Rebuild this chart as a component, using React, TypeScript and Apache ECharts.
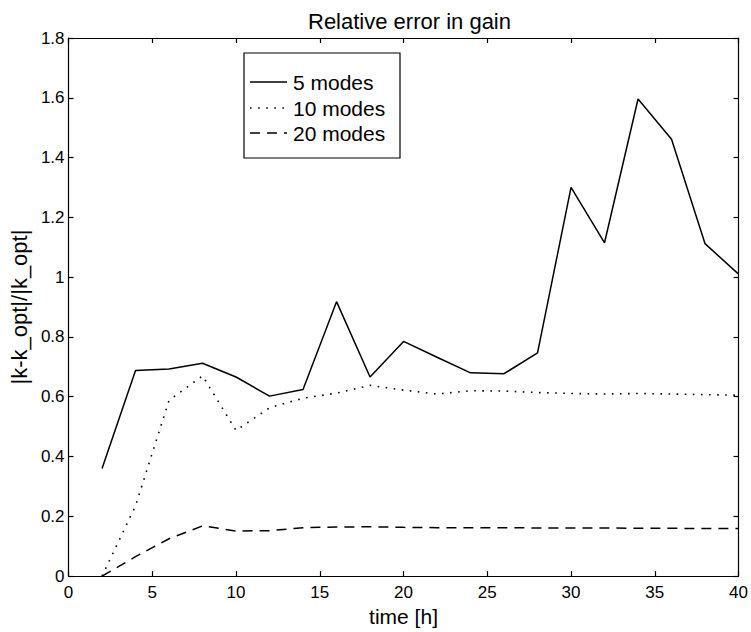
import React, { useEffect, useRef } from "react";
import * as echarts from "echarts";

const hours = [2, 4, 6, 8, 10, 12, 14, 16, 18, 20, 22, 24, 26, 28, 30, 32, 34, 36, 38, 40];
const fiveModes = [0.36, 0.688, 0.693, 0.712, 0.666, 0.602, 0.624, 0.918, 0.666, 0.785, 0.732, 0.68, 0.677, 0.747, 1.3, 1.115, 1.596, 1.461, 1.112, 1.01];
const tenModes = [0, 0.235, 0.588, 0.67, 0.487, 0.563, 0.595, 0.612, 0.638, 0.622, 0.609, 0.62, 0.619, 0.614, 0.611, 0.609, 0.611, 0.609, 0.607, 0.605];
const twentyModes = [0, 0.065, 0.125, 0.168, 0.151, 0.152, 0.162, 0.164, 0.165, 0.163, 0.162, 0.162, 0.162, 0.161, 0.161, 0.161, 0.16, 0.16, 0.159, 0.159];
const seriesNames = ["5 modes", "10 modes", "20 modes"];
const titleText = "Relative error in gain";
const xName = "time [h]";
const yName = "|k-k_opt|/|k_opt|";

const FONT = "'Liberation Sans', Arial, Helvetica, sans-serif";

const lineStyles: any[] = [
  { width: 1.5, dash: null },
  { width: 1.6, dash: [1.6, 6.5] },
  { width: 1.5, dash: [10, 7] },
];

export default function App() {
  const ref = useRef<HTMLDivElement>(null);
  useEffect(() => {
    if (!ref.current) return;
    const chart = echarts.init(ref.current, undefined, { renderer: "svg" });
    const pair = (vals: number[]) => hours.map((h, i) => [h, vals[i]]);
    const tickCommon = { show: true, inside: true, length: 5, lineStyle: { color: "#000", width: 1.2 } };
    const lineCommon = { show: true, onZero: false, lineStyle: { color: "#000", width: 1.2 } };
    const legendRows = [82, 108, 133];
    const legendChildren: any[] = [
      {
        type: "rect",
        shape: { x: 244, y: 53, width: 156, height: 105 },
        style: { fill: "#fff", stroke: "#000", lineWidth: 1.2 },
      },
    ];
    seriesNames.forEach((name, i) => {
      legendChildren.push({
        type: "line",
        shape: { x1: 250, y1: legendRows[i], x2: 287, y2: legendRows[i] },
        style: { stroke: "#000", lineWidth: lineStyles[i].width, lineDash: lineStyles[i].dash || undefined },
      });
      legendChildren.push({
        type: "text",
        x: 293,
        y: legendRows[i],
        style: {
          text: name,
          fontFamily: FONT,
          fontSize: 21,
          fill: "#000",
          textAlign: "left",
          textVerticalAlign: "middle",
          verticalAlign: "middle",
        },
      });
    });
    const mkSeries = (i: number, vals: number[]) => ({
      name: seriesNames[i],
      type: "line",
      data: pair(vals),
      symbol: "none",
      color: "#000",
      lineStyle: { color: "#000", width: lineStyles[i].width, type: lineStyles[i].dash || "solid" },
    });
    chart.setOption({
      animation: false,
      backgroundColor: "#fff",
      title: {
        text: titleText,
        left: 303,
        top: 5,
        textStyle: { fontFamily: FONT, fontSize: 22, fontWeight: "normal", color: "#000" },
      },
      graphic: [{ type: "group", z: 100, children: legendChildren }],
      grid: { left: 62, right: 11, top: 38, bottom: 55, containLabel: false },
      xAxis: [
        {
          type: "value",
          min: 0,
          max: 40,
          interval: 5,
          name: xName,
          nameLocation: "middle",
          nameGap: 28,
          nameTextStyle: { fontFamily: FONT, fontSize: 21, color: "#000" },
          axisLine: lineCommon,
          axisTick: tickCommon,
          axisLabel: { fontFamily: FONT, fontSize: 17, color: "#000", margin: 8 },
          splitLine: { show: false },
        },
        {
          type: "value",
          position: "top",
          min: 0,
          max: 40,
          interval: 5,
          axisLine: lineCommon,
          axisTick: tickCommon,
          axisLabel: { show: false },
          splitLine: { show: false },
        },
      ],
      yAxis: [
        {
          type: "value",
          min: 0,
          max: 1.8,
          interval: 0.2,
          name: yName,
          nameLocation: "middle",
          nameGap: 30,
          nameTextStyle: { fontFamily: FONT, fontSize: 22, color: "#000" },
          axisLine: lineCommon,
          axisTick: tickCommon,
          axisLabel: {
            fontFamily: FONT,
            fontSize: 17,
            color: "#000",
            margin: 4,
            formatter: (v: number) => String(Number(v.toFixed(1))),
          },
          splitLine: { show: false },
        },
        {
          type: "value",
          position: "right",
          min: 0,
          max: 1.8,
          interval: 0.2,
          axisLine: lineCommon,
          axisTick: tickCommon,
          axisLabel: { show: false },
          splitLine: { show: false },
        },
      ],
      series: [mkSeries(0, fiveModes), mkSeries(1, tenModes), mkSeries(2, twentyModes)],
    });
    return () => chart.dispose();
  }, []);
  return (
    <div
      ref={ref}
      style={{ position: "fixed", left: 0, top: 0, width: 751, height: 632, background: "#fff" }}
    />
  );
}
